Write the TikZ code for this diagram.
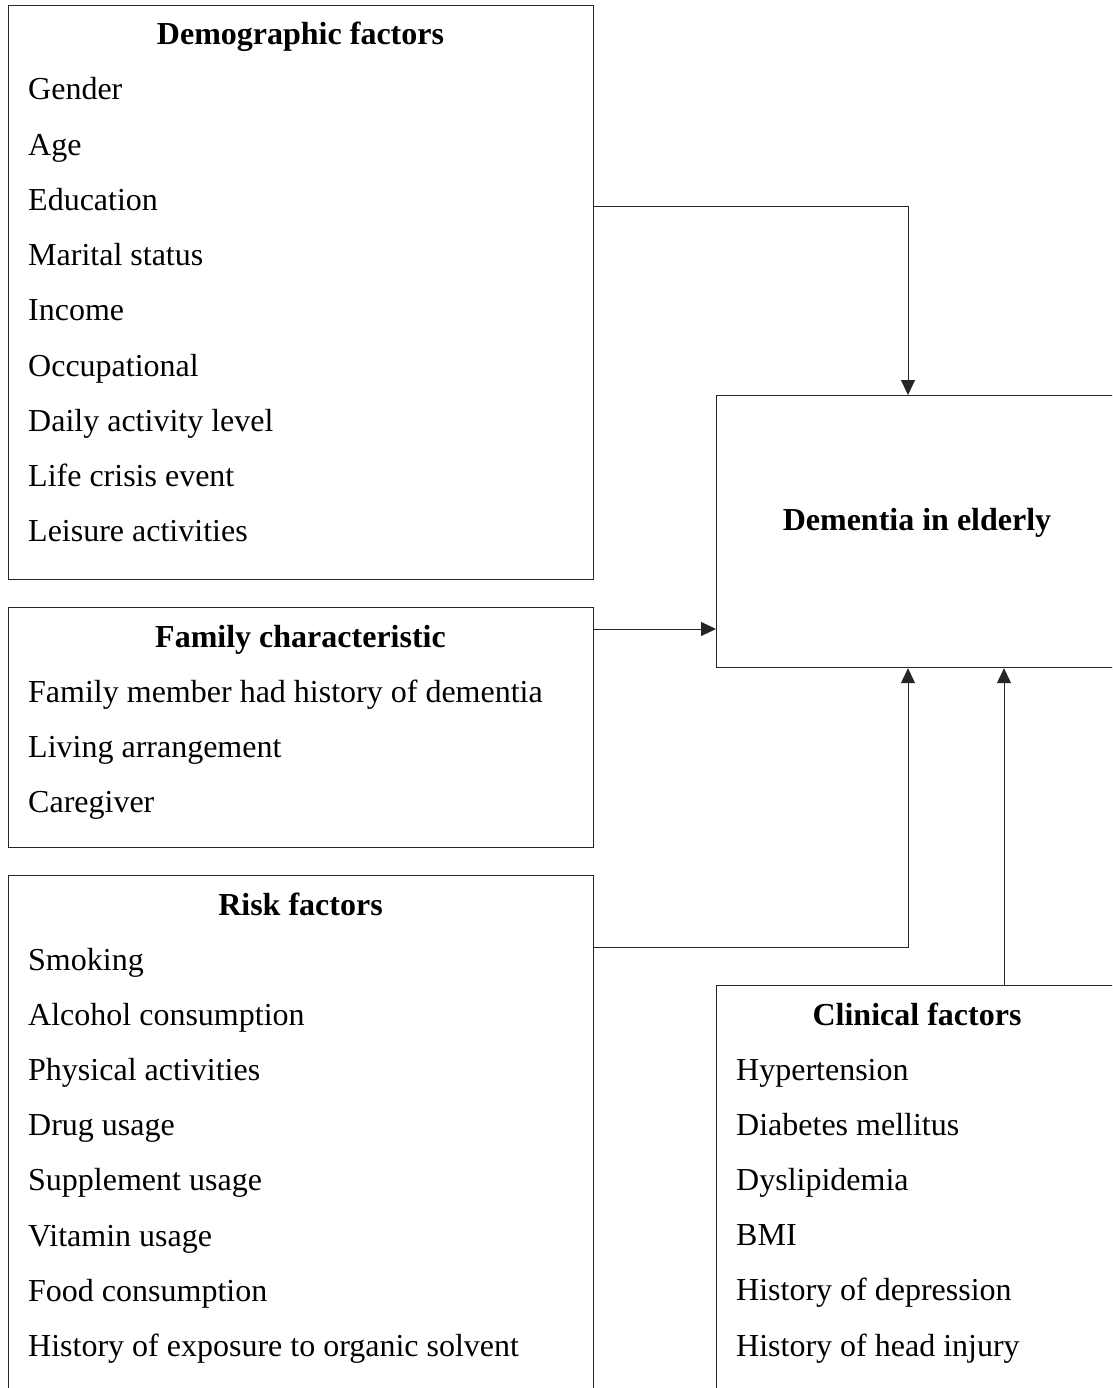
\documentclass[tikz,border=0pt]{standalone}
\usepackage{fontspec}
\setmainfont{Liberation Serif}
\usetikzlibrary{arrows.meta}
\begin{document}
\begin{tikzpicture}[x=1pt,y=-1pt,
  box/.style={draw=black!85,line width=1.2pt,anchor=north west,inner sep=0pt},
  item/.style={anchor=base west,inner sep=0pt,font=\fontsize{32}{38}\selectfont},
  title/.style={anchor=base,inner sep=0pt,font=\fontsize{32}{38}\selectfont\bfseries},
  conn/.style={draw=black!85,line width=1pt,-{Triangle[length=15pt,width=14pt]}}]
\useasboundingbox (0,0) rectangle (1112,1388);
\clip (0,0) rectangle (1112,1388);
\fill[white] (0,0) rectangle (1112,1388);
% boxes
\node[box,minimum width=585pt,minimum height=574pt] (demo) at (8,5) {};
\node[box,minimum width=585pt,minimum height=240pt] (fam) at (8,607) {};
\node[box,minimum width=585pt,minimum height=540pt] (risk) at (8,875) {};
\node[box,minimum width=402pt,minimum height=272pt] (dem) at (716,395) {};
\node[box,minimum width=402pt,minimum height=430pt] (clin) at (716,985) {};
% titles
\node[title] (demoT) at (300.5,45) {Demographic factors};
\node[title] (famT) at (300.5,647) {Family characteristic};
\node[title] (riskT) at (300.5,915) {Risk factors};
\node[title] (demT) at (917,530) {Dementia in elderly};
\node[title] (clinT) at (917,1025) {Clinical factors};
% items
\foreach \t [count=\i from 0] in {Gender,Age,Education,Marital status,Income,Occupational,Daily activity level,Life crisis event,Leisure activities}
  \node[item] (demo\i) at (28,100+55.2*\i) {\t};
\foreach \t [count=\i from 0] in {Family member had history of dementia,Living arrangement,Caregiver}
  \node[item] (fam\i) at (28,702+55.2*\i) {\t};
\foreach \t [count=\i from 0] in {Smoking,Alcohol consumption,Physical activities,Drug usage,Supplement usage,Vitamin usage,Food consumption,History of exposure to organic solvent}
  \node[item] (risk\i) at (28,970+55.2*\i) {\t};
\foreach \t [count=\i from 0] in {Hypertension,Diabetes mellitus,Dyslipidemia,BMI,History of depression,History of head injury}
  \node[item] (clin\i) at (736,1080+55.2*\i) {\t};
% connectors
\draw[conn] ([yshift=-202pt]demo.north east) -| ([xshift=192pt]dem.north west);
\draw[conn] ([yshift=-22pt]fam.north east) -- ([yshift=-22pt]fam.north east -| dem.west);
\draw[conn] ([yshift=-72pt]risk.north east) -| ([xshift=192pt]dem.south west);
\draw[conn] ([xshift=288pt]clin.north west) -- ([xshift=288pt]dem.south west);
\end{tikzpicture}
\end{document}
